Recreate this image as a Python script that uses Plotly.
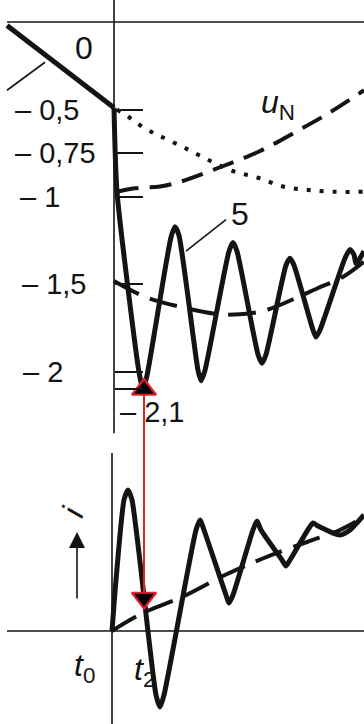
import plotly.graph_objects as go

# ---------------- data (time in arbitrary units, t0 = 0) ----------------
# voltage before t0
t_pre = [-4.28, 0.0]
u_pre = [-0.02, -0.49]

# curve 5 (oscillating voltage)
t_u5 = [0.0, 0.12, 1.0, 1.16, 1.32, 2.28, 2.44, 2.6, 3.36, 3.48, 3.64, 4.6, 4.76, 4.92,
        5.76, 5.92, 6.08, 6.88, 7.04, 7.2, 7.96, 8.08, 8.24, 9.24, 9.44, 9.6, 9.68, 9.84, 10.0]
u_5 = [-0.49, -0.97, -2.0, -2.1, -2.02, -1.23, -1.17, -1.22, -1.99, -2.05, -1.99, -1.31, -1.26, -1.31,
       -1.90, -1.95, -1.90, -1.39, -1.35, -1.39, -1.76, -1.80, -1.76, -1.35, -1.30, -1.33, -1.38, -1.35, -1.31]

# dotted curve
t_dot = [0.12, 0.56, 1.04, 1.52, 1.96, 2.84, 3.8, 4.72, 5.76, 6.76, 7.76, 8.84, 10.0]
u_dot = [-0.50, -0.54, -0.59, -0.63, -0.66, -0.72, -0.79, -0.85, -0.89, -0.94, -0.96, -0.97, -0.97]

# u_N dashed curve
t_uN = [0.12, 0.84, 1.84, 2.72, 4.24, 5.8, 7.24, 8.6, 10.0]
u_uN = [-0.97, -0.95, -0.94, -0.91, -0.83, -0.74, -0.63, -0.52, -0.39]

# middle dashed curve
t_uc = [0.0, 1.24, 2.72, 4.2, 5.04, 6.0, 7.08, 8.16, 9.12, 10.0]
u_uc = [-1.48, -1.57, -1.63, -1.67, -1.67, -1.65, -1.59, -1.52, -1.46, -1.37]

# current i (oscillating)
t_i = [-0.08, 0.08, 0.4, 0.56, 0.72, 1.68, 1.84, 2.0, 3.28, 3.44, 3.6, 4.48, 4.6, 4.76,
       5.56, 5.72, 5.88, 6.72, 6.88, 7.04, 7.8, 7.96, 8.16, 9.04, 9.44, 10.0]
i_vals = [0.0, 1.02, 2.62, 2.82, 2.62, -1.28, -1.52, -1.28, 2.02, 2.22, 2.02, 0.72, 0.56, 0.72,
          2.02, 2.20, 2.02, 1.42, 1.30, 1.42, 2.06, 2.16, 2.10, 1.92, 2.02, 2.32]

# current i (dashed, steady component)
t_is = [-0.08, 1.16, 2.72, 4.44, 6.0, 7.72, 9.04, 10.0]
i_s = [0.0, 0.36, 0.68, 1.12, 1.46, 1.78, 2.02, 2.28]

# t2 marker (red double arrow)
t2 = 1.2
u_t2 = -2.1
i_t2 = 0.66

# voltage axis ticks / labels
tick_vals = [-0.5, -0.75, -1, -1.5, -2, -2.1]
tick_text = ["– 0,5", "– 0,75", "– 1", "– 1,5", "– 2", "– 2,1"]

# ---------------- figure ----------------
black = "#141414"
red = "#e5202a"
font_fam = "Liberation Sans, Arial, sans-serif"

fig = go.Figure()

fig.add_trace(go.Scatter(x=t_pre, y=u_pre, mode="lines",
                         line=dict(color=black, width=5)))
fig.add_trace(go.Scatter(x=t_u5, y=u_5, mode="lines",
                         line=dict(color=black, width=5, shape="spline", smoothing=0.6)))
fig.add_trace(go.Scatter(x=t_dot, y=u_dot, mode="lines",
                         line=dict(color=black, width=4, dash="4px,9px", shape="spline")))
fig.add_trace(go.Scatter(x=t_uN, y=u_uN, mode="lines",
                         line=dict(color=black, width=4, dash="22px,11px", shape="spline")))
fig.add_trace(go.Scatter(x=t_uc, y=u_uc, mode="lines",
                         line=dict(color=black, width=4, dash="28px,12px", shape="spline")))

# leader lines
fig.add_trace(go.Scatter(x=[4.48, 2.88], y=[-1.13, -1.31], mode="lines",
                         line=dict(color=black, width=1.6)))
fig.add_trace(go.Scatter(x=[-4.28, -2.76], y=[-0.39, -0.23], mode="lines",
                         line=dict(color=black, width=1.6)))

# bottom: current
fig.add_trace(go.Scatter(x=t_is, y=i_s, yaxis="y2", mode="lines",
                         line=dict(color=black, width=4, dash="28px,12px", shape="spline")))
fig.add_trace(go.Scatter(x=t_i, y=i_vals, yaxis="y2", mode="lines",
                         line=dict(color=black, width=5, shape="spline", smoothing=0.6)))

# red double arrow
fig.add_trace(go.Scatter(x=[t2, t2], y=[u_t2, -2.5], mode="lines+markers",
                         line=dict(color=red, width=2),
                         marker=dict(symbol="triangle-up", size=[21, 0], color="#000000",
                                     opacity=1, line=dict(color=red, width=2.2))))
fig.add_trace(go.Scatter(x=[t2, t2], y=[4.0, i_t2], yaxis="y2", mode="lines+markers",
                         line=dict(color=red, width=2),
                         marker=dict(symbol="triangle-down", size=[0, 21], color="#000000",
                                     opacity=1, line=dict(color=red, width=2.2))))

shapes = [
    dict(type="line", xref="x", yref="y", x0=-4.28, x1=10, y0=0, y1=0,
         line=dict(color=black, width=1.6)),
    dict(type="line", xref="x", yref="y", x0=0, x1=0, y0=0.125, y1=-2.35,
         line=dict(color=black, width=1.6)),
    dict(type="line", xref="x", yref="y2", x0=-4.28, x1=10, y0=0, y1=0,
         line=dict(color=black, width=1.6)),
    dict(type="line", xref="x", yref="y2", x0=-0.08, x1=-0.08, y0=3.56, y1=-1.86,
         line=dict(color=black, width=1.6)),
]

label_x = [13, 13, 18, 20, 21]
annotations = []
for xv, yv, txt in zip(label_x, tick_vals[:5], tick_text[:5]):
    annotations.append(dict(xref="paper", yref="y", x=xv / 364, y=yv, text=txt,
                            xanchor="left", yanchor="middle", showarrow=False,
                            font=dict(size=29, color=black, family=font_fam)))
annotations.append(dict(xref="x", yref="y", x=0.16, y=-2.23, text=tick_text[5],
                        xanchor="left", yanchor="middle", showarrow=False,
                        font=dict(size=29, color=black, family=font_fam)))
annotations += [
    dict(xref="x", yref="y", x=-1.2, y=-0.15, text="0", showarrow=False,
         font=dict(size=32, color=black, family=font_fam)),
    dict(xref="x", yref="y", x=5.04, y=-1.10, text="5", showarrow=False,
         font=dict(size=32, color=black, family=font_fam)),
    dict(xref="x", yref="y", x=6.56, y=-0.47, text="<i>u</i><sub>N</sub>", showarrow=False,
         font=dict(size=32, color=black, family=font_fam)),
    dict(xref="x", yref="y2", x=-1.2, y=-0.74, text="<i>t</i><sub>0</sub>", showarrow=False,
         font=dict(size=32, color=black, family=font_fam)),
    dict(xref="x", yref="y2", x=1.2, y=-0.82, text="<i>t</i><sub>2</sub>", showarrow=False,
         font=dict(size=32, color=black, family=font_fam)),
    dict(xref="x", yref="y2", x=-1.64, y=2.38, text="<i>i</i>", showarrow=False,
         textangle=-71, font=dict(size=32, color=black, family=font_fam)),
    dict(xref="x", yref="y2", axref="x", ayref="y2", x=-1.48, y=1.98, ax=-1.48, ay=0.62,
         text="", showarrow=True, arrowhead=2, arrowsize=2, arrowwidth=1.6, arrowcolor=black),
]

fig.update_layout(
    width=364, height=724,
    margin=dict(l=0, r=0, t=0, b=0),
    paper_bgcolor="white", plot_bgcolor="white",
    showlegend=False,
    xaxis=dict(range=[-4.56, 10], visible=False, domain=[0, 1]),
    yaxis=dict(domain=[0.39227, 1], range=[-2.3886, 0.1257], anchor="free", position=114 / 364,
               showgrid=False, zeroline=False, showline=False, ticks="inside",
               tickvals=tick_vals, ticklen=28, tickwidth=1.6, tickcolor=black,
               showticklabels=False),
    yaxis2=dict(domain=[0, 0.39227], range=[-1.86, 3.82], visible=False),
    shapes=shapes,
    annotations=annotations,
)

fig.write_html("out.html",
               config={"displayModeBar": False},
               post_script="document.body.style.margin='0';document.body.style.padding='0';"
                           "document.body.style.overflow='hidden';")
